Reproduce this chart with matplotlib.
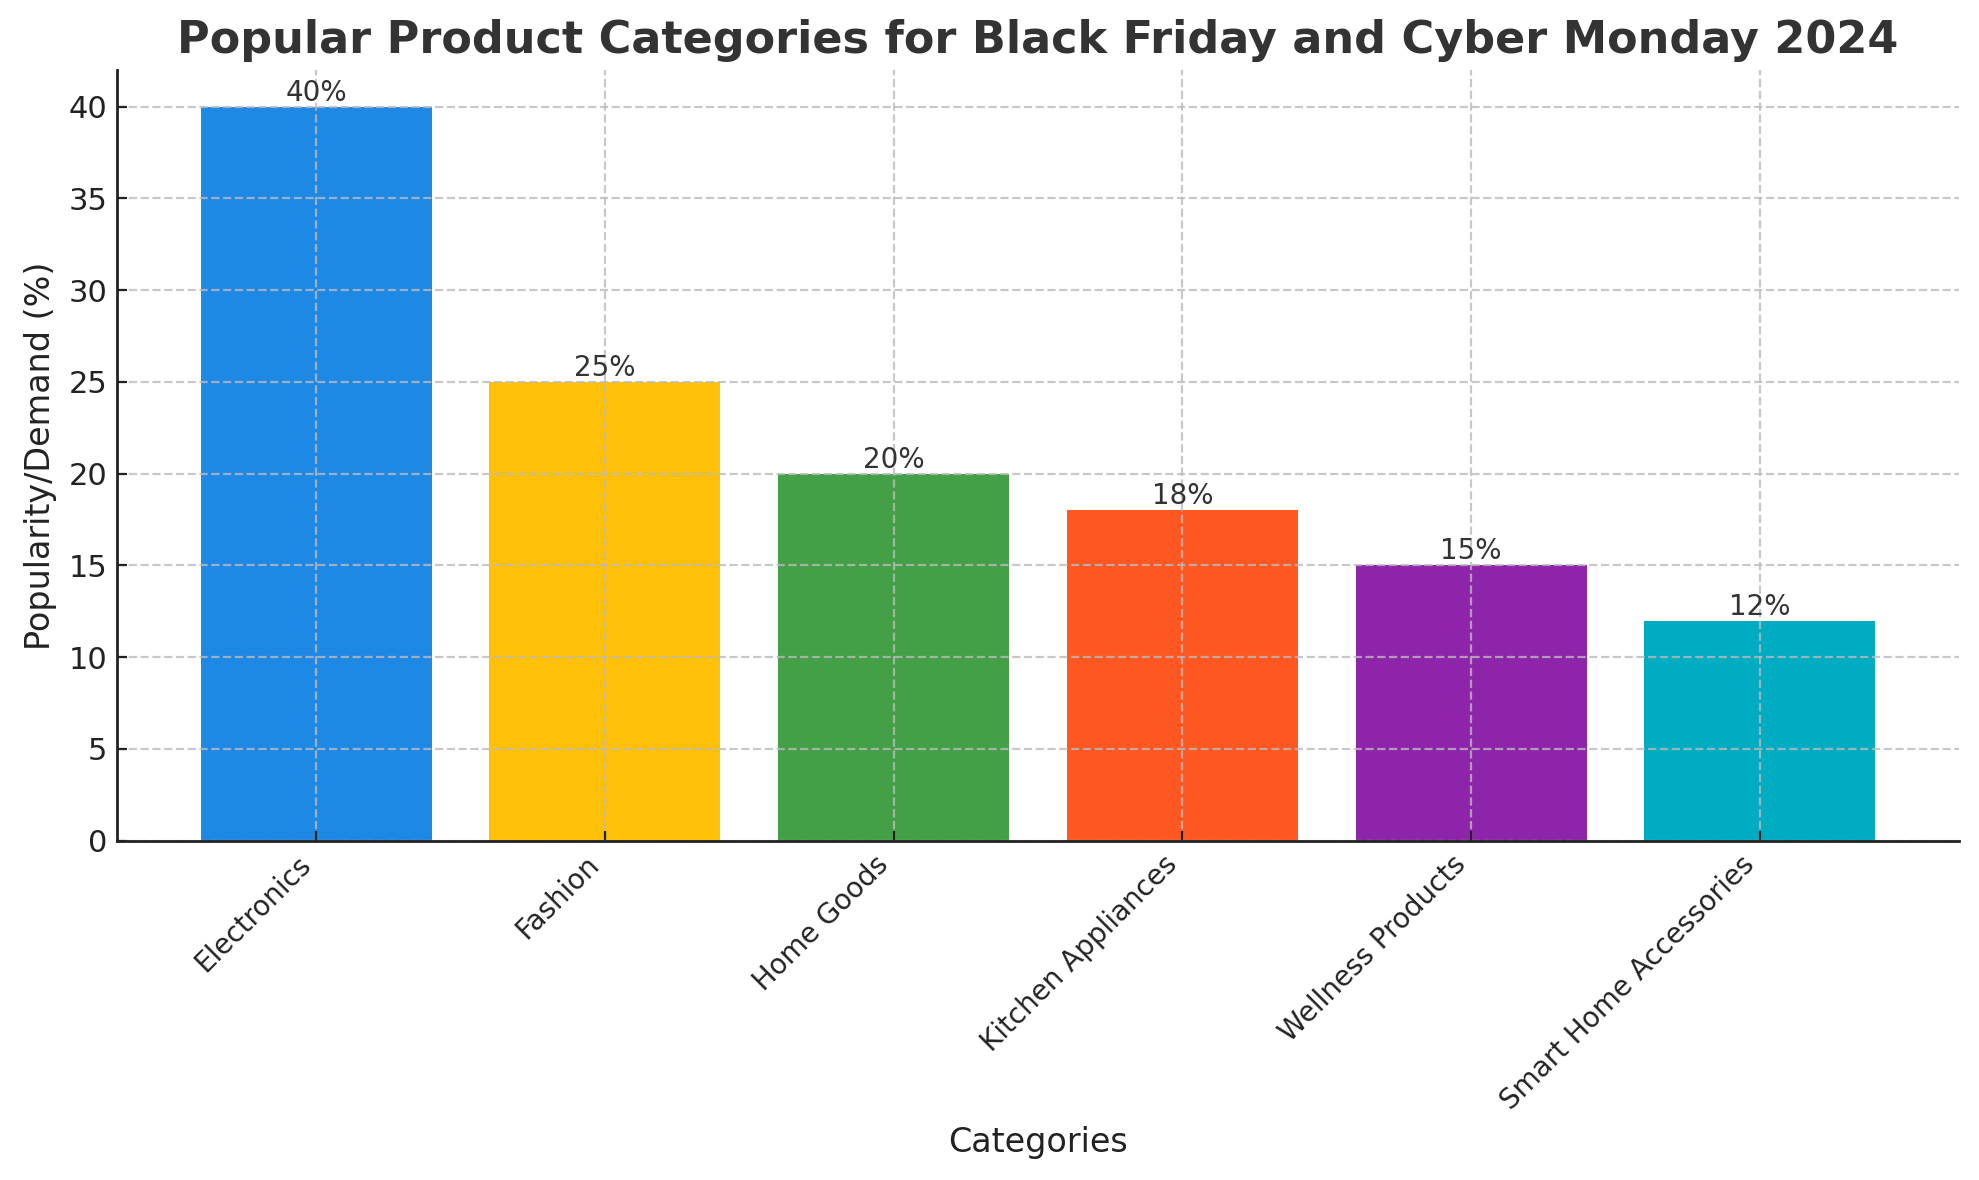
import matplotlib
matplotlib.use("Agg")
import matplotlib.pyplot as plt

categories = ["Electronics", "Fashion", "Home Goods", "Kitchen Appliances",
              "Wellness Products", "Smart Home Accessories"]
popularity = [40, 25, 20, 18, 15, 12]
colors = ["#1E88E5", "#FFC107", "#43A047", "#FF5722", "#8E24AA", "#00ACC1"]

fig, ax = plt.subplots(figsize=(9.895, 5.9), dpi=200)
fig.subplots_adjust(left=0.0591, right=0.990, top=0.9407, bottom=0.2875)

bars = ax.bar(categories, popularity, color=colors, width=0.8)
for b, v in zip(bars, popularity):
    ax.text(b.get_x() + b.get_width() / 2, v, f"{v}%", ha="center", va="bottom",
            fontsize=10, color="#333333")

ax.set_title("Popular Product Categories for Black Friday and Cyber Monday 2024",
             fontsize=16, fontweight="bold", color="#333333")
ax.set_xlabel("Categories", fontsize=12, color="#222222")
ax.set_ylabel("Popularity/Demand (%)", fontsize=12, color="#222222")
ax.tick_params(axis="both", direction="in", colors="#222222")
ax.tick_params(axis="y", labelsize=11)
ax.tick_params(axis="x", labelsize=10)
plt.setp(ax.get_xticklabels(), rotation=45, ha="right")
ax.set_ylim(0, 42)
ax.grid(True, linestyle="--", color="#bbbbbb", alpha=0.8)
for s in ("top", "right"):
    ax.spines[s].set_visible(False)
for s in ("left", "bottom"):
    ax.spines[s].set_linewidth(1.0)
    ax.spines[s].set_color("#222222")
fig.savefig("out.png", dpi=200)
